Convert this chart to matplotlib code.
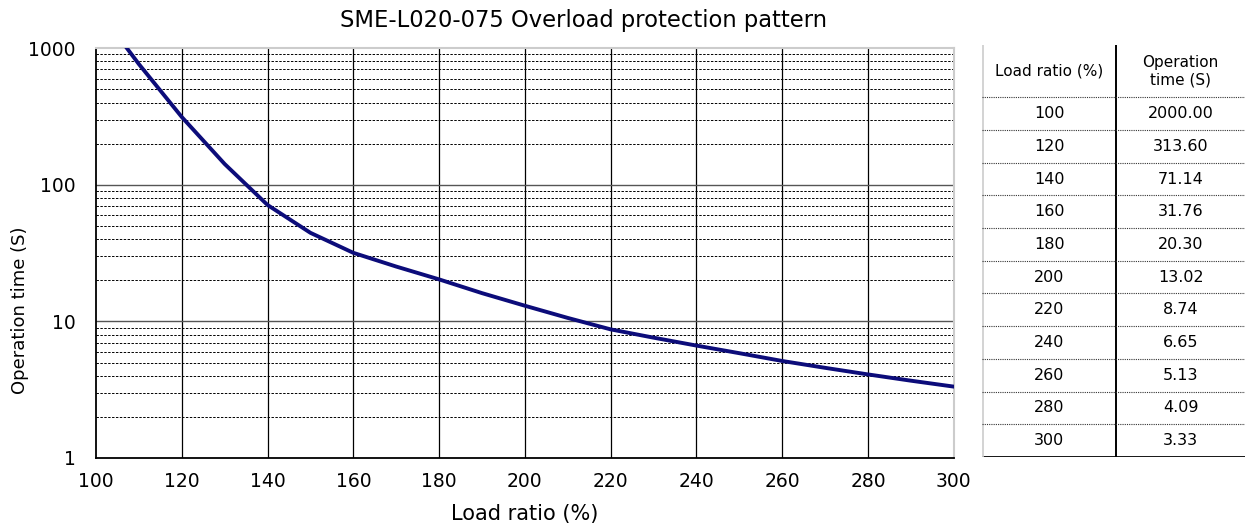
import numpy as np
import matplotlib.pyplot as plt
from matplotlib.ticker import FixedLocator, NullFormatter

plt.rcParams['font.family'] = ['DejaVu Sans']

# table values
load_ratio = [100, 120, 140, 160, 180, 200, 220, 240, 260, 280, 300]
op_time = [2000.00, 313.60, 71.14, 31.76, 20.30, 13.02, 8.74, 6.65, 5.13, 4.09, 3.33]

# curve (table points plus readings in between)
curve_x = [100, 110, 120, 130, 140, 150, 160, 170, 180, 190, 200,
           210, 220, 230, 240, 250, 260, 270, 280, 290, 300]
curve_y = [2000, 765, 313.6, 142, 71.14, 44.5, 31.76, 25.2, 20.3, 16.1, 13.02,
           10.6, 8.74, 7.6, 6.65, 5.85, 5.13, 4.57, 4.09, 3.68, 3.33]

x_ticks = [100, 120, 140, 160, 180, 200, 220, 240, 260, 280, 300]
y_ticks = [1, 10, 100, 1000]
title = "SME-L020-075 Overload protection pattern"

fig = plt.figure(figsize=(12.45, 5.24), dpi=100)
ax = fig.add_axes([0.0771, 0.126, 0.689, 0.782])

ax.set_yscale('log')
ax.set_xlim(100, 300)
ax.set_ylim(1, 1000)

# grid
for xv in x_ticks[1:-1]:
    ax.axvline(xv, color='black', lw=0.9, zorder=1)
for dec in [1, 10, 100]:
    for m in range(2, 10):
        ax.axhline(dec * m, color='black', lw=0.7, ls=(0, (2.5, 1.5)), zorder=1)
for yv in [10, 100]:
    ax.axhline(yv, color='#555555', lw=1.0, zorder=1)

ax.plot(curve_x, curve_y, color='#0c0c7a', lw=2.8, zorder=3,
        solid_joinstyle='round')

ax.set_xticks(x_ticks)
ax.yaxis.set_major_locator(FixedLocator(y_ticks))
ax.yaxis.set_minor_formatter(NullFormatter())
ax.set_yticklabels([str(v) for v in y_ticks])
ax.tick_params(axis='both', which='both', length=0, labelsize=13.5)
ax.tick_params(axis='x', pad=10)
ax.tick_params(axis='y', pad=14.5)

for s in ['left', 'bottom']:
    ax.spines[s].set_color('black')
    ax.spines[s].set_linewidth(1.3)
for s in ['top', 'right']:
    ax.spines[s].set_color('#cccccc')
    ax.spines[s].set_linewidth(1.5)

ax.set_xlabel("Load ratio (%)", fontsize=15, va='center')
ax.xaxis.set_label_coords(0.5, -0.136)
ax.set_ylabel("Operation time (S)", fontsize=13, va='center')
ax.yaxis.set_label_coords(-0.089, 0.36)
fig.text(0.469, 0.96, title, fontsize=16.3, ha='center', va='center')

# table
tx = fig.add_axes([0.789, 0.128, 0.211, 0.786])
n = len(load_ratio)
hdr = 1.6
tx.set_xlim(0, 1)
tx.set_ylim(0, n + hdr)
tx.axis('off')
div = 0.51
tx.plot([div, div], [0, n + hdr], color='black', lw=1.4)
tx.plot([0, 1], [0, 0], color='black', lw=2.0, solid_capstyle='butt')
tx.plot([0.002, 0.002], [0, n + hdr], color='#cccccc', lw=1.2)
tx.text(div / 2, n + hdr / 2, "Load ratio (%)", ha='center', va='center', fontsize=11)
tx.text((div + 1) / 2, n + hdr / 2, "Operation\ntime (S)", ha='center', va='center',
        fontsize=11, linespacing=1.2)
for i in range(n):
    yc = n - i - 0.5
    tx.text(div / 2, yc, str(load_ratio[i]), ha='center', va='center', fontsize=11.5)
    tx.text((div + 1) / 2, yc, f"{op_time[i]:.2f}", ha='center', va='center', fontsize=11.5)
for i in range(1, n + 1):
    tx.plot([0, 1], [i, i], color='#333333', lw=0.8, ls=(0, (1, 1)))

fig.savefig("out.png", dpi=100)
